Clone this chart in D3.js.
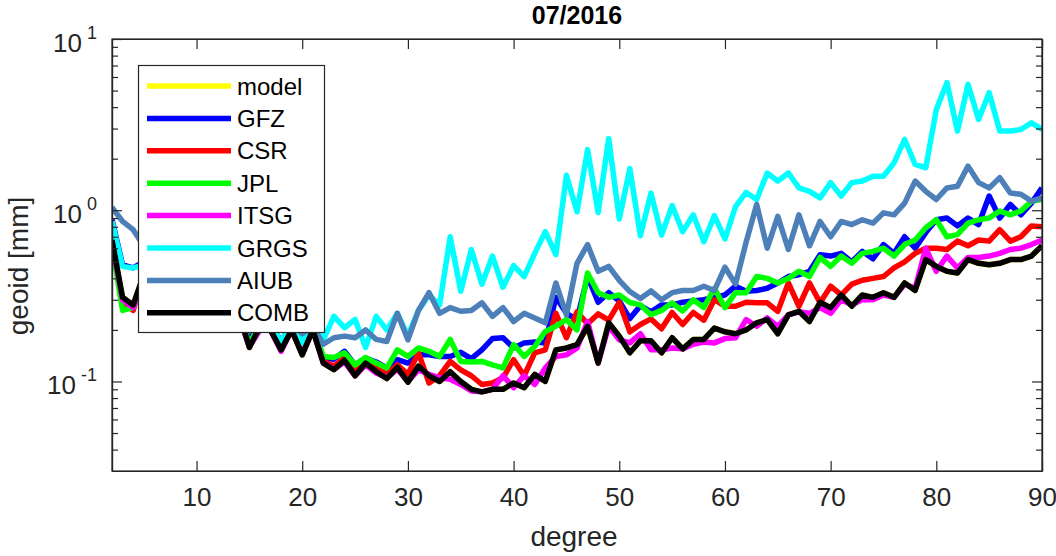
<!DOCTYPE html>
<html>
<head>
<meta charset="utf-8">
<script src="https://cdn.jsdelivr.net/npm/d3@7"></script>
<style>
  html, body { margin: 0; padding: 0; background: #fff; }
  svg { display: block; }
  text { font-family: "Liberation Sans", Arial, Helvetica, sans-serif; }
</style>
</head>
<body>
<svg id="chart" width="1056" height="556"></svg>
<script>
// ---------- data ----------
const degrees = d3.range(2, 91);   // spherical harmonic degree 2..90
const seriesNames = ["model", "GFZ", "CSR", "JPL", "ITSG", "GRGS", "AIUB", "COMB"];
const seriesColors = ["#ffff00", "#0000ff", "#ff0000", "#00ff00", "#ff00ff", "#00ffff", "#4d80b8", "#000000"];
const xTicks = [10, 20, 30, 40, 50, 60, 70, 80, 90];
const yMajorTicks = [0.1, 1, 10];
const yMajorLabels = ["-1", "0", "1"];
const yMinorTicks = [0.04, 0.05, 0.06, 0.07, 0.08, 0.09, 0.2, 0.3, 0.4, 0.5, 0.6, 0.7, 0.8, 0.9, 2, 3, 4, 5, 6, 7, 8, 9];
const titleText = "07/2016";
const xLabel = "degree";
const yLabel = "geoid [mm]";

const model = [0.67,0.31,0.28,0.42,0.36,0.32,0.34,0.29,0.27,0.28,0.25,0.26,0.25,
  0.158,0.21,0.20,0.153,0.20,0.143,0.20,
  0.128,0.117,0.133,0.108,0.128,0.114,0.104,0.121,0.099,
  0.123,0.108,0.100,0.114,0.100,0.090,0.087,0.090,0.090,0.098,
  0.092,0.110,0.100,0.153,0.157,0.164,0.210,0.128,0.220,0.184,
  0.147,0.173,0.173,0.147,0.180,0.155,0.176,0.176,0.205,0.195,
  0.190,0.200,0.220,0.230,0.190,0.245,0.257,0.224,0.290,0.270,
  0.320,0.275,0.320,0.310,0.330,0.310,0.376,0.340,0.515,0.470,
  0.440,0.430,0.515,0.490,0.480,0.490,0.515,0.515,0.540,0.620];

const gfz = [0.88,0.48,0.46,0.50,0.45,0.40,0.42,0.36,0.33,0.31,0.30,0.28,0.27,
  0.170,0.23,0.22,0.170,0.22,0.170,0.21,
  0.137,0.135,0.150,0.125,0.137,0.130,0.120,0.134,0.128,
  0.143,0.143,0.140,0.140,0.148,0.136,0.153,0.178,0.180,0.157,
  0.168,0.170,0.168,0.310,0.250,0.230,0.410,0.290,0.330,0.295,
  0.233,0.277,0.255,0.280,0.280,0.290,0.295,0.300,0.310,0.320,
  0.360,0.336,0.340,0.350,0.376,0.410,0.420,0.440,0.550,0.540,
  0.560,0.500,0.575,0.520,0.630,0.560,0.700,0.600,0.740,0.880,
  0.900,0.810,0.900,0.825,1.210,0.900,1.080,0.940,1.100,1.350];

const csr = [0.65,0.29,0.26,0.42,0.37,0.33,0.34,0.30,0.28,0.28,0.26,0.26,0.25,
  0.160,0.21,0.20,0.155,0.20,0.145,0.20,
  0.131,0.123,0.137,0.113,0.134,0.120,0.110,0.125,0.110,
  0.147,0.098,0.108,0.131,0.117,0.108,0.096,0.098,0.105,0.134,
  0.108,0.147,0.153,0.250,0.180,0.255,0.217,0.248,0.228,0.290,
  0.195,0.215,0.232,0.203,0.253,0.215,0.253,0.228,0.300,0.275,
  0.275,0.290,0.288,0.288,0.257,0.376,0.275,0.376,0.288,0.360,
  0.320,0.370,0.390,0.400,0.410,0.460,0.500,0.560,0.600,0.600,
  0.590,0.660,0.620,0.670,0.660,0.770,0.660,0.700,0.810,0.800];

const jpl = [0.62,0.26,0.27,0.40,0.36,0.33,0.34,0.30,0.28,0.28,0.27,0.26,0.25,
  0.165,0.22,0.21,0.170,0.21,0.170,0.21,
  0.140,0.138,0.147,0.125,0.138,0.128,0.120,0.153,0.140,
  0.157,0.150,0.140,0.176,0.131,0.130,0.131,0.125,0.120,0.164,
  0.140,0.160,0.196,0.210,0.230,0.200,0.430,0.330,0.310,0.320,
  0.289,0.280,0.245,0.260,0.288,0.258,0.300,0.270,0.350,0.270,
  0.330,0.330,0.410,0.400,0.376,0.400,0.440,0.410,0.530,0.470,
  0.540,0.490,0.560,0.575,0.600,0.540,0.630,0.670,0.790,0.880,
  0.700,0.720,0.840,0.880,0.900,0.990,0.940,0.990,1.130,1.155];

const itsg = [0.65,0.30,0.27,0.40,0.35,0.31,0.33,0.28,0.27,0.27,0.25,0.25,0.24,
  0.160,0.20,0.20,0.150,0.20,0.145,0.20,
  0.128,0.118,0.130,0.108,0.125,0.112,0.105,0.118,0.100,
  0.117,0.110,0.105,0.103,0.096,0.088,0.087,0.090,0.108,0.092,
  0.108,0.096,0.120,0.140,0.143,0.157,0.224,0.128,0.210,0.175,
  0.168,0.190,0.153,0.153,0.157,0.155,0.165,0.170,0.168,0.178,
  0.180,0.230,0.210,0.235,0.210,0.245,0.255,0.250,0.270,0.250,
  0.300,0.280,0.300,0.300,0.320,0.310,0.370,0.350,0.600,0.440,
  0.540,0.460,0.530,0.530,0.540,0.560,0.590,0.600,0.630,0.670];

const grgs = [0.86,0.47,0.46,0.48,0.42,0.40,0.38,0.33,0.32,0.30,0.28,0.27,0.25,
  0.20,0.24,0.22,0.170,0.22,0.168,0.22,
  0.175,0.240,0.206,0.230,0.158,0.240,0.200,0.250,0.185,
  0.260,0.320,0.280,0.700,0.336,0.590,0.370,0.540,0.355,0.475,
  0.410,0.560,0.750,0.550,1.600,0.980,2.260,0.970,2.620,0.890,
  1.750,0.710,1.260,0.715,1.065,0.750,0.940,0.655,0.930,0.680,
  1.050,1.270,1.155,1.650,1.480,1.650,1.350,1.290,1.180,1.450,
  1.210,1.450,1.480,1.580,1.580,1.890,2.590,1.850,1.770,3.880,
  5.560,2.900,5.430,3.390,4.860,2.900,2.900,2.960,3.240,2.960];

const aiub = [1.04,0.86,0.77,0.62,0.55,0.48,0.50,0.42,0.40,0.36,0.37,0.32,0.30,
  0.26,0.28,0.24,0.25,0.22,0.19,0.21,
  0.165,0.180,0.184,0.180,0.200,0.176,0.171,0.250,0.175,
  0.260,0.330,0.250,0.270,0.257,0.260,0.288,0.240,0.270,0.224,
  0.250,0.235,0.220,0.376,0.245,0.490,0.630,0.440,0.470,0.390,
  0.335,0.305,0.338,0.300,0.330,0.340,0.340,0.360,0.340,0.465,
  0.370,0.650,1.080,0.600,0.920,0.590,0.940,0.620,0.860,0.700,
  0.860,0.825,0.880,0.840,0.965,0.940,1.100,1.480,1.290,1.155,
  1.350,1.380,1.810,1.450,1.350,1.550,1.260,1.240,1.130,1.180];

const comb = [0.67,0.31,0.28,0.42,0.36,0.32,0.34,0.29,0.27,0.28,0.25,0.26,0.25,
  0.158,0.21,0.20,0.153,0.20,0.143,0.20,
  0.128,0.117,0.133,0.108,0.128,0.114,0.104,0.121,0.099,
  0.123,0.108,0.100,0.114,0.100,0.090,0.087,0.090,0.090,0.098,
  0.092,0.110,0.100,0.153,0.157,0.164,0.210,0.128,0.220,0.184,
  0.147,0.173,0.173,0.147,0.180,0.155,0.176,0.176,0.205,0.195,
  0.190,0.200,0.220,0.230,0.190,0.245,0.257,0.224,0.290,0.270,
  0.320,0.275,0.320,0.310,0.330,0.310,0.376,0.340,0.515,0.470,
  0.440,0.430,0.515,0.490,0.480,0.490,0.515,0.515,0.540,0.620];

const seriesValues = [model, gfz, csr, jpl, itsg, grgs, aiub, comb];

// ---------- layout ----------
const svg = d3.select("#chart");
const L = 112, R = 1042, T = 39, B = 471;
const axisColor = "#262626";

const x = d3.scaleLinear().domain([2, 90]).range([L, R]);
const y = d3.scaleLog().domain([0.03, 10]).range([B, T]);

// clip
svg.append("defs").append("clipPath").attr("id", "plotclip")
  .append("rect").attr("x", L).attr("y", T).attr("width", R - L).attr("height", B - T);

// white plot background
svg.append("rect").attr("x", L).attr("y", T).attr("width", R - L).attr("height", B - T).attr("fill", "#fff");

// lines
const line = d3.line().x((d, i) => x(degrees[i])).y(d => y(d));
const linesG = svg.append("g").attr("clip-path", "url(#plotclip)");
seriesValues.forEach((vals, k) => {
  linesG.append("path")
    .datum(vals)
    .attr("d", line)
    .attr("fill", "none")
    .attr("stroke", seriesColors[k])
    .attr("stroke-width", 5.5)
    .attr("stroke-linejoin", "round")
    .attr("stroke-linecap", "butt");
});

// axes
function styleAxis(g) {
  g.selectAll("path.domain").attr("stroke", axisColor).attr("stroke-width", 1.2);
  g.selectAll(".tick line").attr("stroke", axisColor).attr("stroke-width", 1.2);
  g.selectAll(".tick text").attr("fill", axisColor);
}

const xBottom = svg.append("g").attr("transform", `translate(0,${B})`)
  .call(d3.axisBottom(x).tickValues(xTicks).tickSizeInner(-10).tickSizeOuter(0).tickPadding(17).tickFormat(d3.format("d")));
xBottom.selectAll(".tick text").style("font-size", "26px").style("font-family", "Liberation Sans, Arial, sans-serif");
styleAxis(xBottom);

const xTop = svg.append("g").attr("transform", `translate(0,${T})`)
  .call(d3.axisTop(x).tickValues(xTicks).tickSizeInner(-10).tickSizeOuter(0).tickFormat(""));
styleAxis(xTop);

const yLeftMinor = svg.append("g").attr("transform", `translate(${L},0)`)
  .call(d3.axisLeft(y).tickValues(yMinorTicks).tickSizeInner(-6).tickSizeOuter(0).tickFormat(""));
styleAxis(yLeftMinor);
const yLeft = svg.append("g").attr("transform", `translate(${L},0)`)
  .call(d3.axisLeft(y).tickValues(yMajorTicks).tickSizeInner(-10).tickSizeOuter(0).tickFormat(""));
styleAxis(yLeft);

const yRightMinor = svg.append("g").attr("transform", `translate(${R},0)`)
  .call(d3.axisRight(y).tickValues(yMinorTicks).tickSizeInner(-6).tickSizeOuter(0).tickFormat(""));
styleAxis(yRightMinor);
const yRight = svg.append("g").attr("transform", `translate(${R},0)`)
  .call(d3.axisRight(y).tickValues(yMajorTicks).tickSizeInner(-10).tickSizeOuter(0).tickFormat(""));
styleAxis(yRight);

// box
svg.append("rect").attr("x", L).attr("y", T).attr("width", R - L).attr("height", B - T)
  .attr("fill", "none").attr("stroke", axisColor).attr("stroke-width", 1.2);

// y tick labels 10^n
yMajorTicks.forEach((v, i) => {
  const t = svg.append("text")
    .attr("x", 97).attr("y", y(v) + 12.5)
    .attr("text-anchor", "end")
    .attr("fill", axisColor);
  t.append("tspan").style("font-size", "26px").text("10");
  t.append("tspan").style("font-size", "18px").attr("dx", 5).attr("dy", -13).text(yMajorLabels[i]);
});

// title & labels
svg.append("text").attr("x", (L + R) / 2).attr("y", 24).attr("text-anchor", "middle")
  .style("font-size", "25px").style("font-weight", "bold").attr("fill", "#000").text(titleText);
svg.append("text").attr("x", 574).attr("y", 546).attr("text-anchor", "middle")
  .style("font-size", "28px").attr("fill", axisColor).text(xLabel);
svg.append("text").attr("transform", "translate(28,266) rotate(-90)").attr("text-anchor", "middle")
  .style("font-size", "28px").attr("fill", axisColor).text(yLabel);

// legend
const lg = svg.append("g");
lg.append("rect").attr("x", 138.5).attr("y", 65.5).attr("width", 186).attr("height", 267)
  .attr("fill", "#fff").attr("stroke", axisColor).attr("stroke-width", 1.2);
seriesNames.forEach((name, i) => {
  const cy = 86 + i * 32.4;
  lg.append("line").attr("x1", 147).attr("x2", 231).attr("y1", cy).attr("y2", cy)
    .attr("stroke", seriesColors[i]).attr("stroke-width", 5.5);
  lg.append("text").attr("x", 237).attr("y", cy + 8.5).style("font-size", "24px")
    .attr("fill", "#000").text(name);
});
</script>
</body>
</html>
